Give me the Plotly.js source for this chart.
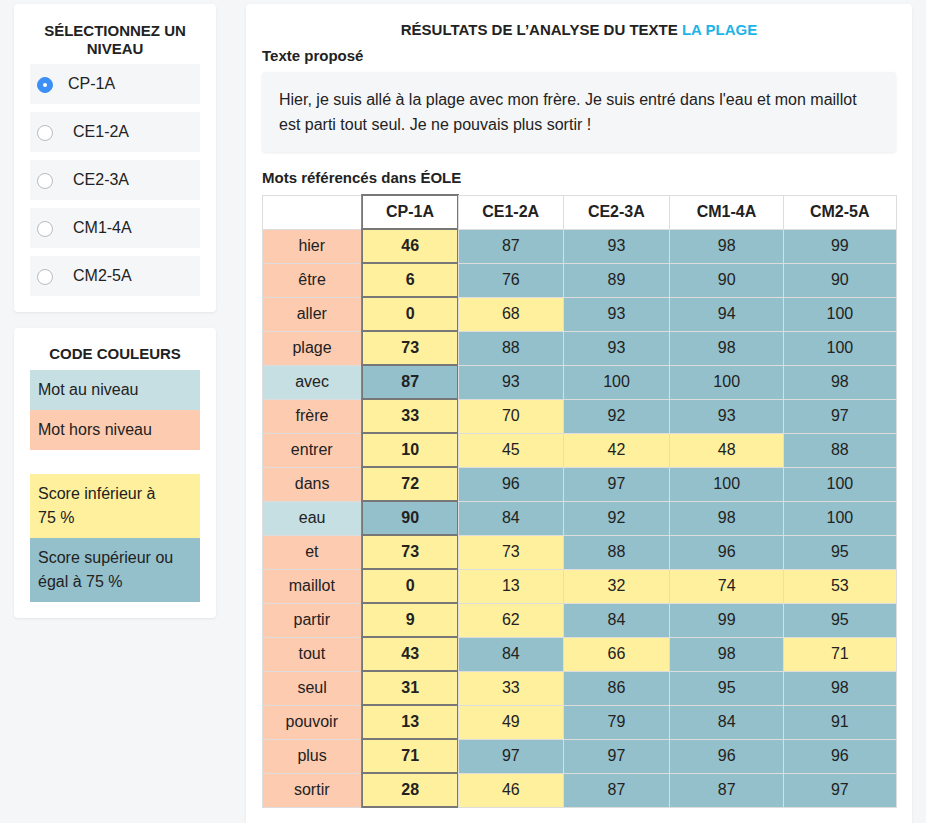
<!DOCTYPE html>
<html><head><meta charset="utf-8">
<script src="https://cdn.plot.ly/plotly-3.0.1.min.js"></script>
<style>
html,body{margin:0;padding:0;background:#f5f6f8;font-family:"Liberation Sans",Arial,Helvetica,sans-serif;color:#222;}
body{width:926px;height:823px;position:relative;overflow:hidden;}
.card{position:absolute;background:#fff;border-radius:4px;box-shadow:0 1px 3px rgba(0,0,0,0.07);}
.h{font-weight:bold;font-size:15px;text-align:center;line-height:18px;position:absolute;left:0;right:0;}
.radio{position:absolute;left:16px;width:170px;height:40px;background:#f5f6f8;font-size:16px;}
.radio .c{position:absolute;left:7px;top:13px;width:14px;height:14px;border-radius:50%;border:1px solid #bbb;background:#fff;}
.radio .c.sel{border:1px solid #3b8ff5;background:#3b8ff5;}
.radio .c.sel:after{content:"";position:absolute;left:5px;top:5px;width:4px;height:4px;border-radius:50%;background:#fff;}
.radio span{position:absolute;top:11px;}
.leg{position:absolute;left:16px;width:162px;padding-left:8px;font-size:16px;line-height:24px;}
</style></head>
<body>
<div class="card" style="left:14px;top:4px;width:202px;height:308px;">
  <div class="h" style="top:18px;">SÉLECTIONNEZ UN<br>NIVEAU</div>
  <div class="radio" style="top:60px;"><div class="c sel"></div><span style="left:38px;">CP-1A</span></div>
  <div class="radio" style="top:108px;"><div class="c"></div><span style="left:43px;">CE1-2A</span></div>
  <div class="radio" style="top:156px;"><div class="c"></div><span style="left:43px;">CE2-3A</span></div>
  <div class="radio" style="top:204px;"><div class="c"></div><span style="left:43px;">CM1-4A</span></div>
  <div class="radio" style="top:252px;"><div class="c"></div><span style="left:43px;">CM2-5A</span></div>
</div>
<div class="card" style="left:14px;top:328px;width:202px;height:290px;">
  <div class="h" style="top:17px;">CODE COULEURS</div>
  <div class="leg" style="top:42px;height:40px;line-height:40px;background:#c6dfe3;">Mot au niveau</div>
  <div class="leg" style="top:82px;height:40px;line-height:40px;background:#fdcbb0;">Mot hors niveau</div>
  <div class="leg" style="top:146px;height:48px;padding-top:8px;padding-bottom:8px;background:#fef09c;">Score inférieur à<br>75 %</div>
  <div class="leg" style="top:210px;height:48px;padding-top:8px;padding-bottom:8px;background:#93c0cb;">Score supérieur ou<br>égal à 75 %</div>
</div>
<div class="card" style="left:246px;top:4px;width:666px;height:840px;">
  <div class="h" style="top:17px;left:0;right:0;">RÉSULTATS DE L’ANALYSE DU TEXTE <span style="color:#1db4e8;">LA PLAGE</span></div>
  <div style="position:absolute;left:16px;top:43px;font-size:15px;font-weight:bold;">Texte proposé</div>
  <div style="position:absolute;left:16px;top:68px;width:634px;height:80px;background:#f5f6f8;border-radius:3px;box-shadow:0 1px 3px rgba(0,0,0,0.08);">
    <div style="position:absolute;left:17px;top:15px;font-size:16px;line-height:25px;width:600px;">Hier, je suis allé à la plage avec mon frère. Je suis entré dans l'eau et mon maillot est parti tout seul. Je ne pouvais plus sortir !</div>
  </div>
  <div style="position:absolute;left:16px;top:165px;font-size:15px;font-weight:bold;">Mots référencés dans ÉOLE</div>
</div>
<div id="chart" style="position:absolute;left:261px;top:194px;width:636px;height:620px;"></div>
<script>
var words = ['hier','être','aller','plage','avec','frère','entrer','dans','eau','et','maillot','partir','tout','seul','pouvoir','plus','sortir'];
var levels = ['CP-1A','CE1-2A','CE2-3A','CM1-4A','CM2-5A'];
var cp1a  = [46, 6, 0, 73, 87, 33, 10, 72, 90, 73, 0, 9, 43, 31, 13, 71, 28];
var ce12a = [87, 76, 68, 88, 93, 70, 45, 96, 84, 73, 13, 62, 84, 33, 49, 97, 46];
var ce23a = [93, 89, 93, 93, 100, 92, 42, 97, 92, 88, 32, 84, 66, 86, 79, 97, 87];
var cm14a = [98, 90, 94, 98, 100, 93, 48, 100, 98, 96, 74, 99, 98, 95, 84, 96, 87];
var cm25a = [99, 90, 100, 100, 98, 97, 88, 100, 100, 95, 53, 95, 71, 98, 91, 96, 97];
var threshold = 75;

var YELLOW = '#fef09c', TEAL = '#93c0cb', SALMON = '#fdcbb0', LIGHTBLUE = '#c6dfe3';
var scoreCols = [cp1a, ce12a, ce23a, cm14a, cm25a];
function scoreColor(v){ return v < threshold ? YELLOW : TEAL; }
var fills = [cp1a.map(function(v){ return v < threshold ? SALMON : LIGHTBLUE; })]
  .concat(scoreCols.map(function(col){ return col.map(scoreColor); }));
var values = [words.map(function(w){ return '<span>'+w+'</span>'; }),
              cp1a.map(function(v){ return '<b>'+v+'</b>'; })]
  .concat(scoreCols.slice(1).map(function(col){ return col.map(function(v){ return '<span>'+v+'</span>'; }); }));
var lineColors = ['#dddddd', '#777777', '#dddddd', '#dddddd', '#dddddd', '#dddddd'];
var lineWidths = [1, 2, 1, 1, 1, 1];

var trace = {
  type: 'table',
  columnwidth: [100, 96, 105, 106, 114, 112],
  header: {
    values: [''].concat(levels.map(function(l){ return '<b>'+l+'</b>'; })),
    fill: {color: '#ffffff'},
    line: {color: lineColors, width: lineWidths},
    font: {family: 'Liberation Sans, Arial, sans-serif', size: 16, color: '#222'},
    align: 'center',
    height: 34
  },
  cells: {
    values: values,
    fill: {color: fills},
    line: {color: lineColors, width: lineWidths},
    font: {family: 'Liberation Sans, Arial, sans-serif', size: 16, color: '#222'},
    align: 'center',
    height: 34
  }
};
Plotly.newPlot('chart', [trace], {
  width: 636, height: 620,
  margin: {l: 1, r: 1, t: 1, b: 1},
  paper_bgcolor: 'rgba(0,0,0,0)'
}, {displayModeBar: false, staticPlot: true});
</script>
</body></html>
